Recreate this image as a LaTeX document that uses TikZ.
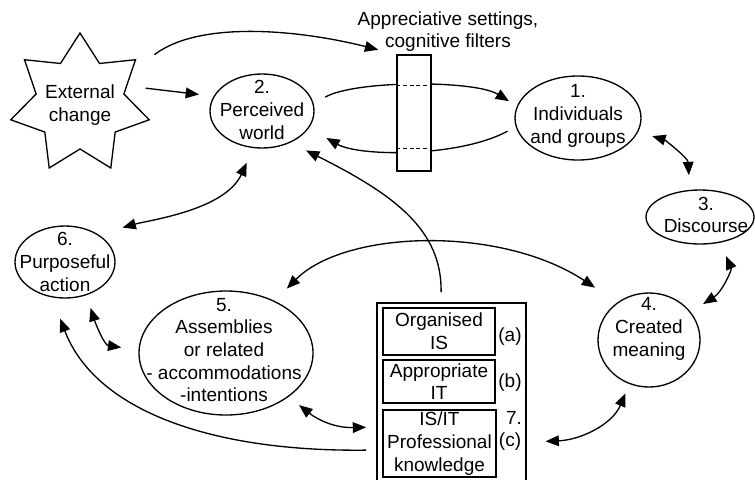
\documentclass[tikz,border=0pt]{standalone}
\usepackage{fontspec}
\setmainfont{Liberation Sans}
\usetikzlibrary{shapes.geometric,arrows.meta,calc}
\begin{document}
\begin{tikzpicture}[x=0.75pt,y=-0.75pt,
  every node/.style={font=\fontsize{14.25}{17}\selectfont},
  bub/.style={draw,ellipse,line width=1pt,inner sep=0pt},
  txt/.style={align=center,inner sep=0pt},
  card/.style={draw,line width=1pt,inner sep=0pt,align=center},
  arr/.style={line width=1pt,-{Triangle[length=10pt,width=8pt]}},
  arr2/.style={line width=1pt,{Triangle[length=10pt,width=8pt]}-{Triangle[length=10pt,width=8pt]}},
]
\useasboundingbox (0,0) rectangle (755,479);

% external change: seven-pointed star round its label
\node[txt] (ext) at (80,105) {External\\change};
\draw[line width=1pt,shift={(80,104)}] (-90:71)
  \foreach \i in {0,...,6} { -- ({-90+\i*360/7+360/14}:45) -- ({-90+(\i+1)*360/7}:71) } -- cycle;

% the six bubbles
\node[bub,minimum width=78pt,minimum height=55.5pt] (n2) at (262,111) {};
\node[txt] (t2) at (262,110) {2.\\Perceived\\world};
\node[bub,minimum width=94.5pt,minimum height=63pt] (n1) at (578,118) {};
\node[txt] (t1) at (578,116) {1.\\Individuals\\and groups};
\node[bub,minimum width=81pt,minimum height=40.5pt] (n3) at (700,217) {};
\node[txt] (t3) at (706,215) {3.\\Discourse};
\node[bub,minimum width=76.5pt,minimum height=70.5pt] (n4) at (649,340) {};
\node[txt] (t4) at (649,329) {4.\\Created\\meaning};
\node[bub,minimum width=75pt,minimum height=54pt] (n6) at (65,262) {};
\node[txt] (t6) at (65,262) {6.\\Purposeful\\action};
\node[bub,minimum width=130.5pt,minimum height=93pt] (n5) at (226,353) {};
\node[txt] (t5) at (224,350) {5.\\Assemblies\\or related\\- accommodations\\-intentions};

% loops passing behind the filter
\draw[arr,shorten <=10pt,shorten >=7pt] (n2.8) .. controls (355,80) and (475,80) .. (n1.169);
\draw[arr,shorten <=7pt,shorten >=15pt] (n1.188) .. controls (460,157) and (360,157) .. (n2.-20);

% appreciative settings / cognitive filters
\node[draw,line width=1pt,fill=white,minimum width=25.5pt,minimum height=87pt,inner sep=0pt] (fb) at (414,113) {};
\draw[dash pattern=on 3pt off 2pt,line width=0.8pt] ($(fb.north west)+(0,31)$) -- ($(fb.north east)+(0,31)$);
\draw[dash pattern=on 3pt off 2pt,line width=0.8pt] ($(fb.north west)+(0,94)$) -- ($(fb.north east)+(0,94)$);
\node[txt] (flab) at (448,31.5) {Appreciative settings,\\cognitive filters};

% box 7
\node[draw,line width=1.3pt,minimum width=111.75pt,minimum height=144pt,inner sep=0pt] (box7) at (451.5,399) {};
\node[card,minimum width=84pt,minimum height=35.25pt] (oa) at (439,331.5) {Organised\\IS};
\node[card,minimum width=84pt,minimum height=32.25pt] (ob) at (439,381.5) {Appropriate\\IT};
\node[card,minimum width=84.75pt,minimum height=50.25pt] (oc) at (439.5,443.5) {IS/IT\\Professional\\knowledge};
\node[txt] (la) at (510,337) {(a)};
\node[txt] (lb) at (510,383) {(b)};
\node[txt] (l7) at (514,418) {7.};
\node[txt] (lc) at (510,442) {(c)};

% connectors
\draw[arr,shorten <=23pt,shorten >=11pt] (ext.north east) -- (n2.163);
\draw[arr,shorten <=37pt,shorten >=14pt] (ext.north east) .. controls (200,20) and (300,30) .. (fb.north west);
\draw[arr2,shorten <=11pt,shorten >=11pt] (n1.-13) .. controls (665,140) and (688,158) .. (n3.111);
\draw[arr2,shorten <=11pt,shorten >=11pt] (n3.-52) .. controls (732,270) and (722,292) .. (n4.34);
\draw[arr2,shorten <=19pt,shorten >=12pt] (n6.40) .. controls (150,220) and (225,210) .. (n2.-103);
\draw[arr,shorten <=7.5pt,shorten >=13pt] ([xshift=-7.9pt]box7.north) .. controls (442,230) and (395,195) .. (n2.-48);
\draw[arr2,shorten <=13pt,shorten >=20pt] (n5.47) .. controls (345,230) and (500,225) .. (n4.130);
\draw[arr2,shorten <=10pt,shorten >=13pt] (n6.-57) .. controls (95,322) and (104,345) .. (n5.178);
\draw[arr2,shorten <=10pt,shorten >=7.5pt] (n5.-35) .. controls (318,420) and (335,428) .. ([yshift=-21pt]box7.west);
\draw[arr,shorten <=7.5pt,shorten >=17pt] ([yshift=-38.25pt]box7.west) .. controls (210,452) and (95,410) .. (n6.-110);
\draw[arr2,shorten <=14pt,shorten >=7.5pt] ([yshift=-32.25pt]box7.east) .. controls (580,440) and (612,425) .. (n4.-114);
\end{tikzpicture}
\end{document}
